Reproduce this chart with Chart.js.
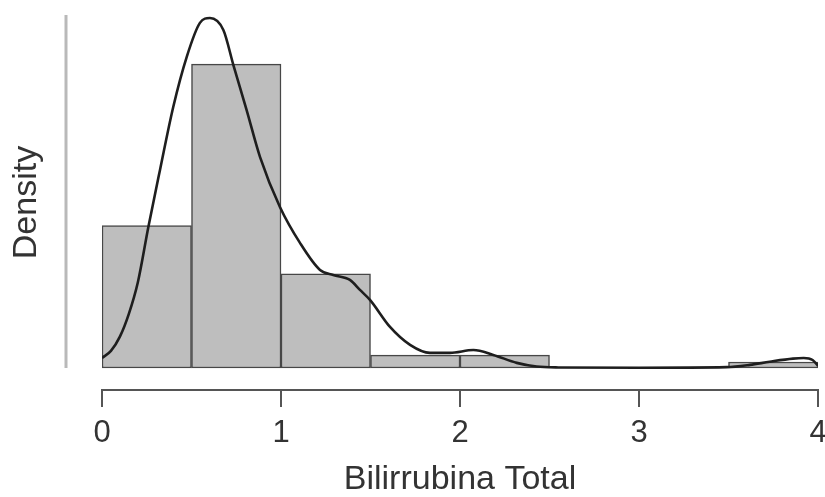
<!DOCTYPE html>
<html>
<head>
<meta charset="utf-8">
<title>Bilirrubina Total</title>
<script src="https://cdn.jsdelivr.net/npm/chart.js@4/dist/chart.umd.min.js"></script>
<style>
  html, body { margin: 0; padding: 0; background: #fff; }
  #chart { display: block; }
</style>
</head>
<body>
<canvas id="chart" width="825" height="497"></canvas>
<script>
// histogram bins (width 0.5), density scale
const binCenters = [0.25, 0.75, 1.25, 1.75, 2.25, 2.75, 3.25, 3.75];
const binDensity = [0.50, 1.066, 0.33, 0.045, 0.045, null, null, 0.021];

// kernel density estimate
const kdeX = [0, 0.05, 0.1, 0.15, 0.2, 0.259, 0.324, 0.398, 0.473, 0.547, 0.603, 0.678, 0.734, 0.808, 0.883,
  0.994, 1.106, 1.218, 1.292, 1.385, 1.441, 1.497, 1.609, 1.721, 1.832, 1.944, 2.075,
  2.186, 2.317, 2.428, 2.55, 3.0, 3.49, 3.62, 3.73, 3.86, 3.92, 3.97, 4.0];
const kdeY = [0.035, 0.06, 0.11, 0.19, 0.30, 0.495, 0.695, 0.916, 1.091, 1.211, 1.228, 1.186, 1.063, 0.905, 0.740,
  0.565, 0.439, 0.344, 0.326, 0.309, 0.274, 0.239, 0.144, 0.081, 0.053, 0.053, 0.063,
  0.046, 0.018, 0.005, 0.002, 0.001, 0.003, 0.011, 0.022, 0.033, 0.035, 0.028, 0.008];

const xTicks = [0, 1, 2, 3, 4];
const xTitle = 'Bilirrubina Total';
const yTitle = 'Density';

const textColor = '#333';
const axisColor = '#555';
const fontFamily = "'Liberation Sans', Arial, sans-serif";

// R style y axis: a plain grey line from 0 up to the top, no ticks
const yLinePlugin = {
  id: 'yLine',
  afterDraw(chart) {
    const { ctx, chartArea, scales } = chart;
    const x = chartArea.left - 36;
    ctx.save();
    ctx.strokeStyle = '#b9b9b9';
    ctx.lineWidth = 3;
    ctx.beginPath();
    ctx.moveTo(x, scales.y.getPixelForValue(0));
    ctx.lineTo(x, chartArea.top);
    ctx.stroke();
    ctx.restore();
  }
};

new Chart(document.getElementById('chart'), {
  type: 'bar',
  data: {
    datasets: [
      {
        type: 'line',
        data: kdeX.map((x, i) => ({ x, y: kdeY[i] })),
        borderColor: '#1e1e1e',
        borderWidth: 2.6,
        pointRadius: 0,
        cubicInterpolationMode: 'monotone',
        fill: false,
        order: 0
      },
      {
        type: 'bar',
        data: binCenters.map((x, i) => ({ x, y: binDensity[i] })),
        backgroundColor: '#bebebe',
        borderColor: '#474747',
        borderWidth: 1.5,
        borderSkipped: false,
        barPercentage: 1,
        categoryPercentage: 1,
        order: 1
      }
    ]
  },
  options: {
    responsive: false,
    animation: false,
    layout: { padding: { top: 15, right: 7, left: 0, bottom: 0 } },
    plugins: {
      legend: { display: false },
      tooltip: { enabled: false }
    },
    scales: {
      x: {
        type: 'linear',
        min: 0,
        max: 4,
        offset: false,
        afterBuildTicks: (scale) => { scale.ticks = xTicks.map(v => ({ value: v })); },
        afterFit: (scale) => {
          scale.height = 107;
          // let the edge labels overhang instead of shrinking the plot
          scale.paddingLeft = 0;
          scale.paddingRight = 0;
        },
        grid: {
          display: true,
          offset: false,
          drawOnChartArea: false,
          drawTicks: true,
          tickLength: 17,
          color: axisColor,
          lineWidth: 2
        },
        border: { display: true, color: axisColor, width: 2 },
        ticks: {
          color: textColor,
          padding: 8,
          font: { family: fontFamily, size: 31 }
        },
        title: {
          display: true,
          text: xTitle,
          color: textColor,
          padding: { top: 0, bottom: 0 },
          font: { family: fontFamily, size: 34, lineHeight: 1 }
        }
      },
      y: {
        min: -0.0772,
        max: 1.2386,
        afterFit: (scale) => { scale.width = 102; },
        grid: { display: false, drawTicks: false },
        border: { display: false },
        ticks: { display: false },
        title: {
          display: true,
          text: yTitle,
          color: textColor,
          padding: { top: 10, bottom: 0 },
          font: { family: fontFamily, size: 34, lineHeight: 1 }
        }
      }
    }
  },
  plugins: [yLinePlugin]
});
</script>
</body>
</html>
